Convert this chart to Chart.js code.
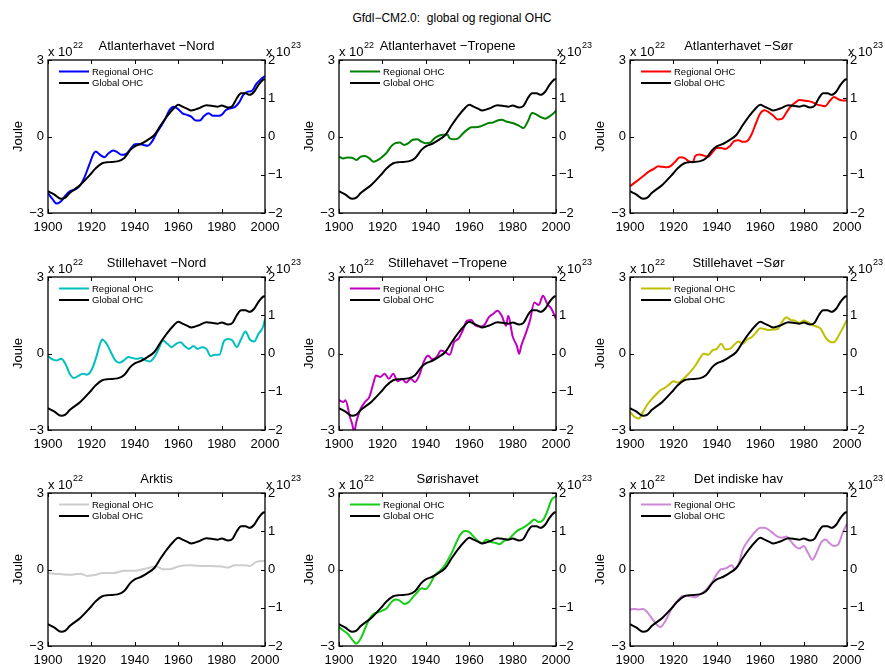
<!DOCTYPE html>
<html>
<head>
<meta charset="utf-8">
<script src="https://cdn.jsdelivr.net/npm/chart.js@4"></script>
<style>
  html, body { margin: 0; padding: 0; background: #fff; }
  body { width: 885px; height: 665px; position: relative; overflow: hidden;
         font-family: "Liberation Sans", Arial, Helvetica, sans-serif; }
  #mainTitle { position: absolute; left: 0; width: 904px; top: 11px; text-align: center;
               font-size: 12px; white-space: pre; color: #000; }
  canvas { position: absolute; }
</style>
</head>
<body>
<div id="mainTitle">Gfdl−CM2.0:  global og regional OHC</div>
<script>
// Global ocean heat content (right axis, x 10^23 J)
const globalYears = [1900,1903,1906,1908,1910,1915,1920,1922,1925,1928,1932,1935,1938,1940,1943,1946,1949,1952,1955,1958,1960,1962,1964,1966,1968,1970,1973,1976,1978,1980,1983,1985,1987,1989,1991,1993,1995,1997,1999,2000];
const globalOHC   = [-1.43,-1.52,-1.63,-1.60,-1.48,-1.26,-0.96,-0.83,-0.70,-0.67,-0.65,-0.57,-0.35,-0.26,-0.19,-0.09,0.04,0.30,0.54,0.74,0.83,0.78,0.73,0.68,0.71,0.75,0.82,0.80,0.78,0.81,0.76,0.80,1.00,1.13,1.13,1.09,1.17,1.35,1.48,1.50];

// Regional ocean heat content (left axis, x 10^22 J)
const atlNordYears = [1900,1902,1904,1906,1908,1910,1913,1915,1917,1919,1921,1922,1924,1926,1928,1930,1932,1934,1936,1938,1940,1942,1944,1946,1948,1950,1952,1954,1956,1958,1960,1962,1964,1966,1968,1970,1972,1974,1976,1978,1980,1982,1984,1986,1988,1990,1992,1994,1996,1998,2000];
const atlNordOHC   = [-2.22,-2.45,-2.63,-2.54,-2.32,-2.15,-2.06,-1.89,-1.56,-1.11,-0.68,-0.59,-0.72,-0.81,-0.65,-0.55,-0.62,-0.72,-0.68,-0.49,-0.30,-0.29,-0.33,-0.36,-0.19,0.13,0.39,0.68,1.04,1.17,1.07,0.91,0.85,0.78,0.63,0.63,0.81,0.91,0.81,0.81,0.85,1.04,1.11,1.15,1.33,1.63,1.76,1.79,2.06,2.24,2.37];

const atlTropYears = [1900,1902,1904,1906,1908,1910,1912,1914,1916,1918,1920,1922,1924,1926,1928,1930,1932,1934,1936,1938,1940,1942,1944,1946,1948,1950,1951,1953,1955,1957,1959,1961,1963,1965,1967,1969,1971,1973,1975,1977,1979,1981,1983,1985,1987,1989,1991,1993,1995,1997,1999,2000];
const atlTropOHC   = [-0.79,-0.86,-0.82,-0.83,-0.92,-0.79,-0.76,-0.86,-0.99,-0.92,-0.79,-0.63,-0.39,-0.26,-0.24,-0.33,-0.26,-0.13,-0.11,-0.20,-0.26,-0.24,-0.07,0.03,0.07,0.07,-0.07,-0.11,-0.07,0.11,0.26,0.36,0.36,0.39,0.46,0.53,0.55,0.63,0.66,0.59,0.55,0.50,0.42,0.33,0.59,0.92,0.86,0.76,0.70,0.79,0.92,1.01];

const atlSorYears = [1900,1903,1906,1909,1911,1913,1915,1917,1919,1921,1923,1925,1927,1929,1930,1932,1934,1936,1938,1940,1942,1944,1946,1948,1950,1952,1954,1956,1958,1960,1962,1964,1966,1968,1970,1972,1974,1976,1978,1980,1982,1984,1986,1988,1990,1992,1994,1996,1998,2000];
const atlSorOHC   = [-1.95,-1.76,-1.56,-1.36,-1.27,-1.17,-1.19,-1.21,-1.14,-0.97,-0.81,-0.84,-0.97,-1.01,-0.77,-0.71,-0.75,-0.80,-0.62,-0.45,-0.45,-0.49,-0.38,-0.18,-0.15,-0.21,-0.18,0.08,0.51,0.90,1.03,0.95,0.82,0.67,0.69,0.93,1.17,1.32,1.43,1.41,1.39,1.35,1.26,1.22,1.19,1.39,1.55,1.46,1.41,1.41];

const pacNordYears = [1900,1902,1904,1906,1908,1910,1912,1914,1916,1918,1920,1922,1924,1925,1927,1929,1931,1933,1935,1937,1939,1941,1943,1945,1947,1949,1951,1953,1955,1957,1959,1961,1963,1965,1967,1969,1971,1973,1975,1977,1979,1981,1983,1985,1987,1989,1991,1993,1995,1997,1999,2000];
const pacNordOHC   = [-0.10,-0.23,-0.27,-0.21,-0.40,-0.79,-0.96,-0.88,-0.79,-0.83,-0.66,-0.21,0.38,0.55,0.38,0.05,-0.27,-0.36,-0.27,-0.14,-0.18,-0.21,-0.17,-0.27,-0.31,-0.14,0.18,0.51,0.38,0.25,0.38,0.44,0.29,0.18,0.29,0.18,0.25,0.18,-0.10,-0.05,-0.05,0.47,0.57,0.51,0.25,0.57,0.86,0.55,0.47,0.77,1.03,1.35];

const pacTropYears = [1900,1902,1903,1905,1906,1907,1908,1910,1912,1914,1916,1917,1919,1921,1923,1925,1927,1929,1931,1933,1935,1937,1939,1941,1943,1945,1947,1949,1951,1953,1955,1957,1959,1961,1963,1965,1967,1969,1971,1973,1975,1977,1978,1980,1982,1983,1984,1986,1988,1990,1992,1994,1996,1998,2000];
const pacTropOHC   = [-1.83,-1.90,-1.83,-2.48,-2.74,-3.07,-2.68,-2.16,-1.90,-1.70,-1.12,-0.86,-0.92,-0.79,-0.99,-0.79,-1.09,-1.01,-1.14,-0.99,-1.12,-0.86,-0.34,-0.08,-0.23,-0.14,0.12,0.05,-0.05,0.44,0.57,0.90,1.29,1.31,1.09,1.06,1.12,1.42,1.55,1.68,1.48,1.09,1.48,0.68,0.29,-0.01,0.31,0.77,1.29,2.00,1.90,2.26,1.94,1.74,1.35];

const pacSorYears = [1900,1902,1904,1906,1908,1910,1912,1914,1916,1918,1920,1922,1924,1926,1928,1930,1932,1934,1936,1938,1940,1942,1944,1946,1948,1950,1952,1954,1956,1958,1960,1962,1964,1966,1968,1970,1972,1974,1976,1978,1980,1982,1984,1986,1988,1990,1992,1994,1996,1998,2000];
const pacSorOHC   = [-2.29,-2.48,-2.55,-2.29,-2.00,-1.79,-1.61,-1.44,-1.35,-1.22,-1.09,-1.14,-1.05,-0.88,-0.70,-0.49,-0.21,-0.01,-0.05,0.12,0.18,0.38,0.16,0.18,0.34,0.47,0.38,0.55,0.64,0.81,0.99,0.96,0.92,0.94,0.96,1.22,1.42,1.32,1.29,1.19,1.29,1.22,1.12,1.06,0.96,0.64,0.47,0.44,0.68,0.99,1.32];

const arktisYears = [1900,1905,1910,1915,1918,1922,1925,1930,1935,1940,1945,1950,1953,1956,1960,1965,1970,1975,1980,1983,1986,1990,1993,1996,2000];
const arktisOHC   = [-0.14,-0.18,-0.21,-0.17,-0.25,-0.21,-0.14,-0.14,-0.05,-0.05,0.04,0.12,0.01,0.01,0.12,0.17,0.14,0.14,0.12,0.08,0.17,0.17,0.14,0.30,0.34];

const sorishavYears = [1900,1902,1904,1906,1908,1910,1912,1914,1916,1918,1920,1922,1924,1926,1928,1930,1932,1934,1936,1938,1940,1942,1944,1946,1948,1950,1952,1954,1956,1958,1960,1962,1964,1966,1968,1970,1972,1974,1976,1978,1980,1982,1984,1986,1988,1990,1992,1994,1996,1998,2000];
const sorishavOHC   = [-2.26,-2.39,-2.52,-2.74,-2.91,-2.71,-2.32,-1.94,-1.74,-1.68,-1.61,-1.52,-1.29,-1.18,-1.22,-1.35,-1.29,-1.09,-0.90,-0.74,-0.77,-0.57,-0.25,-0.09,0.08,0.34,0.66,1.05,1.38,1.51,1.47,1.29,1.12,1.03,1.18,1.08,1.05,0.99,1.12,1.18,1.34,1.51,1.60,1.70,1.83,1.96,1.86,1.94,2.29,2.74,2.87];

const indiskYears = [1900,1902,1904,1906,1908,1910,1912,1914,1916,1918,1920,1922,1924,1926,1928,1930,1932,1934,1936,1938,1940,1942,1944,1946,1947,1948,1950,1952,1954,1956,1958,1960,1962,1964,1966,1968,1970,1972,1974,1976,1978,1980,1982,1984,1986,1988,1990,1992,1994,1996,1998,2000];
const indiskOHC   = [-1.57,-1.55,-1.57,-1.55,-1.68,-1.91,-2.13,-2.26,-2.06,-1.74,-1.42,-1.22,-1.05,-1.03,-1.05,-1.09,-1.00,-0.87,-0.70,-0.48,-0.18,0.01,0.04,0.14,0.17,0.04,0.21,0.79,1.08,1.31,1.51,1.64,1.64,1.55,1.42,1.29,1.25,1.29,1.12,0.92,0.82,0.92,0.66,0.38,0.66,1.05,1.18,1.03,0.92,0.99,1.44,1.80];

// Axis ranges and tick steps
const xTicks = { min: 1900, max: 2000, step: 20 };
const leftTicks = { min: -3, max: 3, step: 3 };
const rightTicks = { min: -2, max: 2, step: 1 };

const panels = [
  { title: 'Atlanterhavet \u2212Nord',    color: 'rgb(0,0,255)',     years: atlNordYears,  values: atlNordOHC },
  { title: 'Atlanterhavet \u2212Tropene', color: 'rgb(0,128,0)',     years: atlTropYears,  values: atlTropOHC },
  { title: 'Atlanterhavet \u2212S\u00f8r', color: 'rgb(255,0,0)',    years: atlSorYears,   values: atlSorOHC },
  { title: 'Stillehavet \u2212Nord',      color: 'rgb(0,191,191)',   years: pacNordYears,  values: pacNordOHC },
  { title: 'Stillehavet \u2212Tropene',   color: 'rgb(191,0,191)',   years: pacTropYears,  values: pacTropOHC },
  { title: 'Stillehavet \u2212S\u00f8r',  color: 'rgb(191,191,0)',   years: pacSorYears,   values: pacSorOHC },
  { title: 'Arktis',                      color: 'rgb(205,205,205)', years: arktisYears,   values: arktisOHC },
  { title: 'S\u00f8rishavet',             color: 'rgb(20,205,20)',   years: sorishavYears, values: sorishavOHC },
  { title: 'Det indiske hav',             color: 'rgb(205,135,215)', years: indiskYears,   values: indiskOHC }
];

const FONT = '"Liberation Sans", Arial, Helvetica, sans-serif';
const PLOT_W = 217, PLOT_H = 153;
const PAD_L = 48, PAD_R = 40, PAD_T = 30, PAD_B = 25;
const COL_X = [48, 339, 630];
const ROW_Y = [60, 277, 493];

Chart.defaults.font.family = FONT;
Chart.defaults.font.size = 13;
Chart.defaults.color = '#000';

const fmt = v => (v < 0 ? '\u2212' + Math.abs(v) : String(v));

// Frame, inward tick marks, titles, exponent labels, y label and legend
const panelDecor = {
  id: 'panelDecor',
  afterDraw(chart, args, opts) {
    const { ctx, chartArea: a, scales } = chart;
    ctx.save();
    ctx.strokeStyle = '#000';
    ctx.fillStyle = '#000';

    // inward tick marks
    const TL = 4;
    ctx.lineWidth = 1;
    ctx.beginPath();
    scales.x.ticks.forEach(t => {
      const px = Math.round(scales.x.getPixelForValue(t.value)) + 0.5;
      ctx.moveTo(px, a.bottom); ctx.lineTo(px, a.bottom - TL);
      ctx.moveTo(px, a.top);    ctx.lineTo(px, a.top + TL);
    });
    scales.y.ticks.forEach(t => {
      const py = Math.round(scales.y.getPixelForValue(t.value)) + 0.5;
      ctx.moveTo(a.left, py); ctx.lineTo(a.left + TL, py);
    });
    scales.y2.ticks.forEach(t => {
      const py = Math.round(scales.y2.getPixelForValue(t.value)) + 0.5;
      ctx.moveTo(a.right, py); ctx.lineTo(a.right - TL, py);
    });
    ctx.stroke();

    // frame
    ctx.lineWidth = 1.3;
    ctx.strokeRect(a.left, a.top, a.right - a.left, a.bottom - a.top);

    // panel title
    ctx.font = '13px ' + FONT;
    ctx.textAlign = 'center';
    ctx.textBaseline = 'alphabetic';
    ctx.fillText(opts.title, (a.left + a.right) / 2, a.top - 10);

    // exponent labels
    const drawExp = (x, exp) => {
      ctx.textAlign = 'left';
      ctx.font = '13px ' + FONT;
      ctx.fillText('x 10', x, a.top - 4);
      const w = ctx.measureText('x 10').width;
      ctx.font = '9px ' + FONT;
      ctx.fillText(exp, x + w + 0.5, a.top - 12);
    };
    drawExp(a.left, '22');
    drawExp(a.right + 1, '23');

    // y label
    ctx.save();
    ctx.translate(a.left - 30, (a.top + a.bottom) / 2);
    ctx.rotate(-Math.PI / 2);
    ctx.font = '13px ' + FONT;
    ctx.textAlign = 'center';
    ctx.textBaseline = 'middle';
    ctx.fillText('Joule', 0, 0);
    ctx.restore();

    // legend
    ctx.font = '9.5px ' + FONT;
    ctx.textAlign = 'left';
    ctx.textBaseline = 'middle';
    chart.data.datasets.forEach((ds, i) => {
      const y = a.top + 11.5 + i * 11.5;
      ctx.strokeStyle = ds.borderColor;
      ctx.lineWidth = 2;
      ctx.beginPath();
      ctx.moveTo(a.left + 11, y);
      ctx.lineTo(a.left + 41, y);
      ctx.stroke();
      ctx.fillText(ds.label, a.left + 44, y + 0.5);
    });
    ctx.restore();
  }
};

const toPoints = (xs, ys) => xs.map((x, i) => ({ x, y: ys[i] }));

panels.forEach((p, idx) => {
  const col = idx % 3, row = Math.floor(idx / 3);
  const cv = document.createElement('canvas');
  const W = PAD_L + PLOT_W + PAD_R, H = PAD_T + PLOT_H + PAD_B;
  cv.width = W; cv.height = H;
  cv.style.width = W + 'px'; cv.style.height = H + 'px';
  cv.style.left = (COL_X[col] - PAD_L) + 'px';
  cv.style.top = (ROW_Y[row] - PAD_T) + 'px';
  document.body.appendChild(cv);

  const hiddenGrid = { display: false, drawTicks: false };
  new Chart(cv, {
    type: 'line',
    data: {
      datasets: [
        { label: 'Regional OHC', data: toPoints(p.years, p.values), yAxisID: 'y',
          borderColor: p.color, borderWidth: 2, pointRadius: 0,
          cubicInterpolationMode: 'monotone', order: 1, clip: 0 },
        { label: 'Global OHC', data: toPoints(globalYears, globalOHC), yAxisID: 'y2',
          borderColor: '#000', borderWidth: 2, pointRadius: 0,
          cubicInterpolationMode: 'monotone', order: 0, clip: 0 }
      ]
    },
    options: {
      responsive: false,
      animation: false,
      devicePixelRatio: 1,
      layout: { padding: { top: PAD_T, left: 0, right: 0, bottom: 0 } },
      plugins: { legend: { display: false }, tooltip: { enabled: false }, panelDecor: { title: p.title } },
      scales: {
        x: {
          type: 'linear', min: xTicks.min, max: xTicks.max,
          grid: hiddenGrid, border: { display: false },
          ticks: { stepSize: xTicks.step, padding: 7, autoSkip: false, maxRotation: 0,
                   callback: v => String(v) },
          afterFit(s) { s.height = PAD_B; }
        },
        y: {
          position: 'left', min: leftTicks.min, max: leftTicks.max,
          grid: hiddenGrid, border: { display: false },
          ticks: { stepSize: leftTicks.step, padding: 4, callback: fmt },
          afterFit(s) { s.width = PAD_L; }
        },
        y2: {
          position: 'right', min: rightTicks.min, max: rightTicks.max,
          grid: hiddenGrid, border: { display: false },
          ticks: { stepSize: rightTicks.step, padding: 3, callback: fmt },
          afterFit(s) { s.width = PAD_R; }
        }
      }
    },
    plugins: [panelDecor]
  });
});
</script>
</body>
</html>
